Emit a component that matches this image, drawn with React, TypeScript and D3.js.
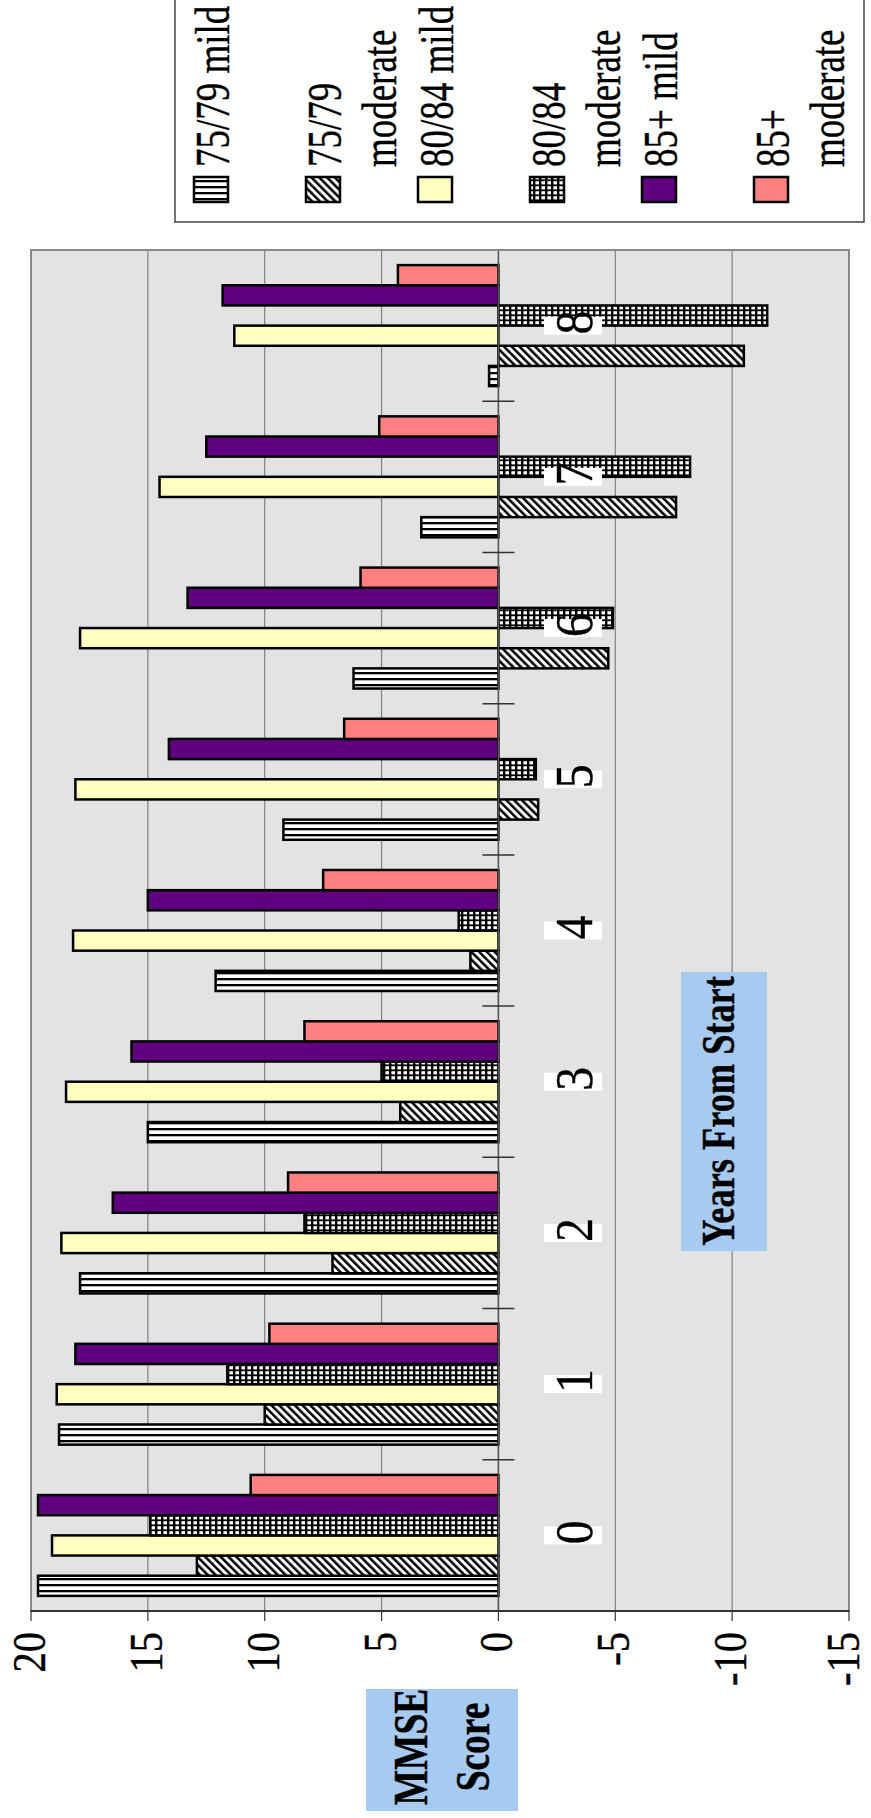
import React from "react";
import * as d3 from "d3";

const categories = ["0", "1", "2", "3", "4", "5", "6", "7", "8"];
const seriesNames = ["75/79 mild", "75/79 moderate", "80/84 mild", "80/84 moderate", "85+ mild", "85+ moderate"];
const legendLines = [["75/79 mild"], ["75/79", "moderate"], ["80/84 mild"], ["80/84", "moderate"], ["85+ mild"], ["85+", "moderate"]];

const mild7579 = [19.7, 18.8, 17.9, 15.0, 12.1, 9.2, 6.2, 3.3, 0.4];
const moderate7579 = [12.9, 10.0, 7.1, 4.2, 1.2, -1.7, -4.7, -7.6, -10.5];
const mild8084 = [19.1, 18.9, 18.7, 18.5, 18.2, 18.1, 17.9, 14.5, 11.3];
const moderate8084 = [14.9, 11.6, 8.3, 5.0, 1.7, -1.6, -4.9, -8.2, -11.5];
const mild85 = [19.7, 18.1, 16.5, 15.7, 15.0, 14.1, 13.3, 12.5, 11.8];
const moderate85 = [10.6, 9.8, 9.0, 8.3, 7.5, 6.6, 5.9, 5.1, 4.3];

const valueTicks = [20, 15, 10, 5, 0, -5, -10, -15];
const valueTickLabels = ["20", "15", "10", "5", "0", "-5", "-10", "-15"];

const seriesValues = [mild7579, moderate7579, mild8084, moderate8084, mild85, moderate85];
const seriesFills = ["url(#hstripe)", "url(#diag)", "#FFFFC0", "url(#grid)", "#600080", "#FF8080"];

const FONT = "'Liberation Serif','Times New Roman',serif";

function RT({ x, y, anchor = "middle", size = 46, weight = "normal", sx = 1, children }: any) {
  return (
    <text
      transform={`translate(${x},${y}) rotate(-90) scale(${sx},1)`}
      textAnchor={anchor}
      fontSize={size}
      fontWeight={weight}
      fontFamily={FONT}
      fill="#000"
      stroke="#000"
      strokeWidth={0.4}
    >
      {children}
    </text>
  );
}

export default function App() {
  const W = 871;
  const H = 1818;
  const plotL = 31, plotR = 849, plotT = 250, plotB = 1611;

  const xVal = d3.scaleLinear().domain([20, -15]).range([plotL, plotR]);
  const yCat = d3.scaleBand().domain([...categories].reverse()).range([plotT, plotB]).padding(0);
  const bw = yCat.bandwidth();
  const ySer = d3.scaleBand().domain([...seriesNames].reverse()).range([bw * 0.1, bw * 0.9]).padding(0);
  const x0 = xVal(0);

  const boundaries = d3.range(categories.length + 1).map((i) => plotT + i * bw);

  return (
    <svg width={W} height={H} style={{ position: "absolute", left: 0, top: 0, display: "block" }}>
      <defs>
        <pattern id="hstripe" patternUnits="userSpaceOnUse" width="8" height="6">
          <rect width="8" height="6" fill="#fff" />
          <rect width="8" height="2.3" fill="#000" />
        </pattern>
        <pattern id="diag" patternUnits="userSpaceOnUse" width="5.5" height="5.5" patternTransform="rotate(-45)">
          <rect width="5.5" height="5.5" fill="#fff" />
          <rect width="2.5" height="5.5" fill="#000" />
        </pattern>
        <pattern id="grid" patternUnits="userSpaceOnUse" width="6" height="5">
          <rect width="6" height="5" fill="#000" />
          <rect x="1.4" y="1.2" width="3.6" height="3.2" fill="#fff" />
        </pattern>
      </defs>

      {/* plot background */}
      <rect x={plotL} y={plotT} width={plotR - plotL} height={plotB - plotT} fill="#E3E3E3" />

      {/* gridlines */}
      {valueTicks.map((t) => (
        <line key={"g" + t} x1={xVal(t)} x2={xVal(t)} y1={plotT} y2={plotB} stroke="#808080" strokeWidth={1.2} />
      ))}

      {/* bars */}
      {seriesNames.map((s, si) =>
        categories.map((c, ci) => {
          const v = seriesValues[si][ci];
          const xv = xVal(v);
          const y = (yCat(c) as number) + (ySer(s) as number);
          return (
            <rect
              key={s + c}
              x={Math.min(xv, x0)}
              y={y}
              width={Math.abs(xv - x0)}
              height={ySer.bandwidth()}
              fill={seriesFills[si]}
              stroke="#000"
              strokeWidth={2.5}
            />
          );
        })
      )}

      {/* zero axis and category ticks */}
      <line x1={x0} x2={x0} y1={plotT} y2={plotB} stroke="#555" strokeWidth={1.5} />
      {boundaries.map((b, i) => (
        <line key={"ct" + i} x1={x0 - 16} x2={x0 + 16} y1={b} y2={b} stroke="#333" strokeWidth={1.5} />
      ))}

      {/* category labels */}
      {categories.map((c) => {
        const cy = (yCat(c) as number) + bw / 2;
        return (
          <g key={"cl" + c}>
            <rect x={544} y={cy - 9} width={58} height={18} fill="#fff" />
            <RT x={592} y={cy - 3} anchor="middle" size={52} sx={0.92}>{c}</RT>
          </g>
        );
      })}

      {/* plot border */}
      <rect x={plotL} y={plotT} width={plotR - plotL} height={plotB - plotT} fill="none" stroke="#888" strokeWidth={2} />
      {/* value axis */}
      <line x1={plotL} x2={plotR} y1={plotB} y2={plotB} stroke="#333" strokeWidth={2} />
      {valueTicks.map((t, i) => (
        <g key={"vt" + t}>
          <line x1={xVal(t)} x2={xVal(t)} y1={plotB} y2={plotB + 10} stroke="#333" strokeWidth={1.2} />
          <RT x={Math.min(xVal(t) + 14, 859)} y={1632} anchor="end" size={46} sx={0.88}>{valueTickLabels[i]}</RT>
        </g>
      ))}

      {/* category axis title */}
      <rect x={681} y={972} width={86} height={279} fill="#A6CAF0" />
      <RT x={734} y={1111} anchor="middle" size={46} weight="bold" sx={0.79}>Years From Start</RT>

      {/* value axis title */}
      <rect x={366} y={1689} width={152} height={122} fill="#A6CAF0" />
      <RT x={427} y={1747} anchor="middle" size={48} weight="bold" sx={0.78}>MMSE</RT>
      <RT x={489} y={1747} anchor="middle" size={48} weight="bold" sx={0.78}>Score</RT>

      {/* legend */}
      <rect x={175} y={-3} width={689} height={225} fill="#fff" stroke="#444" strokeWidth={1.5} />
      {seriesNames.map((s, i) => {
        const sx = 194 + i * 112;
        return (
          <g key={"lg" + s}>
            <rect x={sx} y={177} width={34} height={25} fill={seriesFills[i]} stroke="#000" strokeWidth={2.5} />
            {legendLines[i].map((ln, li) => (
              <RT key={ln} x={sx + 34.5 + li * 55.5} y={167} anchor="start" size={48} sx={0.77}>{ln}</RT>
            ))}
          </g>
        );
      })}
    </svg>
  );
}
